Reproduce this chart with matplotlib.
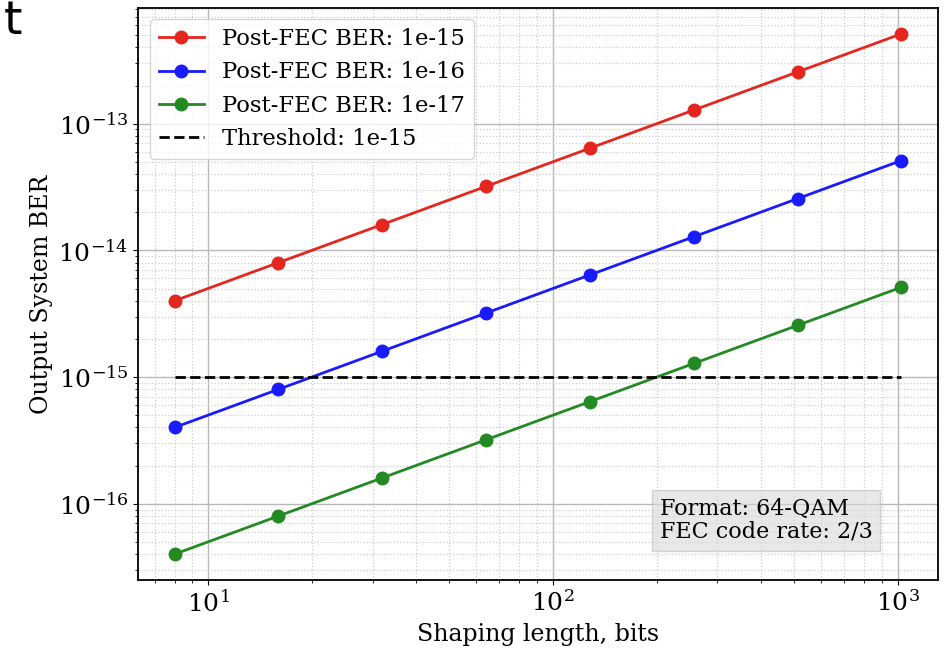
import numpy as np
import matplotlib

matplotlib.use('Agg')
import matplotlib.pyplot as plt

# shaping lengths and resulting system BER for each post-FEC target
shaping_len = [8, 16, 32, 64, 128, 256, 512, 1024]
ber_1e15 = [4e-15, 8e-15, 1.6e-14, 3.2e-14, 6.4e-14, 1.28e-13, 2.56e-13, 5.12e-13]
ber_1e16 = [4e-16, 8e-16, 1.6e-15, 3.2e-15, 6.4e-15, 1.28e-14, 2.56e-14, 5.12e-14]
ber_1e17 = [4e-17, 8e-17, 1.6e-16, 3.2e-16, 6.4e-16, 1.28e-15, 2.56e-15, 5.12e-15]
threshold = 1e-15

plt.rcParams['font.family'] = 'DejaVu Serif'
plt.rcParams['font.size'] = 16

fig = plt.figure(figsize=(9.53, 6.49), dpi=100)
ax = fig.add_axes([0.145, 0.106, 0.839, 0.882])

ax.plot(shaping_len, ber_1e15, '-o', color='#e5261f', lw=2, ms=9, label='Post-FEC BER: 1e-15')
ax.plot(shaping_len, ber_1e16, '-o', color='#1a1aff', lw=2, ms=9, label='Post-FEC BER: 1e-16')
ax.plot(shaping_len, ber_1e17, '-o', color='#238a23', lw=2, ms=9, label='Post-FEC BER: 1e-17')
ax.plot([shaping_len[0], shaping_len[-1]], [threshold, threshold], 'k--', lw=2, label='Threshold: 1e-15')

ax.set_xscale('log')
ax.set_yscale('log')
ax.grid(True, which='major', color='#b8b8b8', lw=1)
ax.grid(True, which='minor', color='#cccccc', ls=':', lw=0.9)
ax.tick_params(which='major', labelsize=18)
ax.set_xlabel('Shaping length, bits', fontsize=17, labelpad=5)
ax.set_ylabel('Output System BER', fontsize=17)
for sp in ax.spines.values():
    sp.set_linewidth(1.3)

ax.legend(loc='upper left', fontsize=16.3)
ax.text(0.652, 0.065, 'Format: 64-QAM\nFEC code rate: 2/3', transform=ax.transAxes,
        fontsize=16, va='bottom', ha='left', linespacing=1.05,
        bbox=dict(facecolor='#d9d9d9', edgecolor='#bbbbbb', alpha=0.6, boxstyle='square,pad=0.35'))

fig.text(0.004, 0.948, 't', family='DejaVu Sans', fontsize=34, va='baseline', ha='left')

fig.savefig('out.png', dpi=100)
